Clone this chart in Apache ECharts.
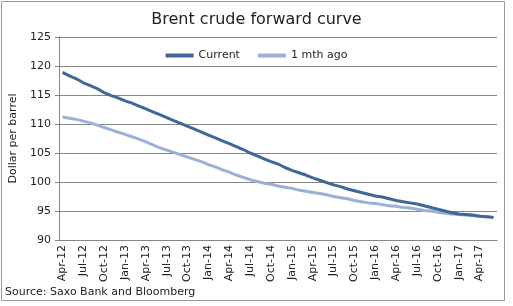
<!DOCTYPE html>
<html><head><meta charset="utf-8">
<script src="https://cdn.jsdelivr.net/npm/echarts@6/dist/echarts.min.js"></script>
<style>html,body{margin:0;padding:0;background:#fff}#c{width:513px;height:306px}</style>
</head><body><div id="c"></div>
<script>
const months = ['Jan','Feb','Mar','Apr','May','Jun','Jul','Aug','Sep','Oct','Nov','Dec'];
const categories = [];
for (let k = 0; k < 63; k++) { const m = (3 + k) % 12; const y = 12 + Math.floor((3 + k) / 12); categories.push(months[m] + '-' + y); }
const current = [118.9,118.3,117.8,117.1,116.6,116.1,115.4,114.9,114.5,114.0,113.6,113.1,112.6,112.1,111.6,111.1,110.6,110.1,109.6,109.1,108.6,108.1,107.6,107.1,106.6,106.1,105.6,105.0,104.5,104.0,103.5,103.1,102.5,102.0,101.6,101.2,100.7,100.3,99.9,99.5,99.2,98.8,98.5,98.2,97.9,97.6,97.4,97.1,96.8,96.6,96.4,96.2,95.9,95.6,95.3,95.0,94.7,94.5,94.4,94.3,94.1,94.0,93.9];
const monthAgo = [111.2,111.0,110.8,110.5,110.2,109.8,109.4,109.0,108.6,108.2,107.8,107.4,106.9,106.4,105.9,105.5,105.1,104.7,104.3,103.9,103.5,103.0,102.6,102.1,101.7,101.2,100.8,100.4,100.1,99.8,99.6,99.3,99.1,98.9,98.6,98.4,98.2,98.0,97.8,97.5,97.3,97.1,96.8,96.6,96.4,96.3,96.1,95.9,95.8,95.6,95.5,95.3,95.1,95.0,94.8,94.6,94.5,94.4,94.3,94.2,94.1,94.0,93.9];
const seriesNames = ['Current','1 mth ago'];
const font = 'DejaVu Sans, Verdana, sans-serif';
const chart = echarts.init(document.getElementById('c'), null, {renderer:'canvas'});
chart.setOption({
  animation:false,
  backgroundColor:'#fff',
  title:{text:'Brent crude forward curve', left:'center', top:7, textStyle:{fontFamily:font, fontSize:16, fontWeight:'normal', color:'#222'}},
  legend:{top:45, left:'center', icon:'rect', itemWidth:28, itemHeight:4, itemGap:18, textStyle:{fontFamily:font, fontSize:11, color:'#222'}, data:seriesNames},
  grid:{left:57, right:16, top:37, bottom:66, containLabel:false},
  xAxis:{type:'category', data:categories, boundaryGap:true,
    axisLine:{lineStyle:{color:'#868686'}},
    axisTick:{interval:2, length:4, lineStyle:{color:'#868686'}},
    axisLabel:{interval:2, rotate:90, fontFamily:font, fontSize:11, color:'#222', margin:5}},
  yAxis:{type:'value', min:90, max:125, interval:5,
    name:'Dollar per barrel', nameLocation:'middle', nameGap:40, nameRotate:90,
    nameTextStyle:{fontFamily:font, fontSize:11, color:'#222'},
    axisLine:{show:true, lineStyle:{color:'#868686'}},
    axisTick:{show:true, length:4, lineStyle:{color:'#868686'}},
    splitLine:{lineStyle:{color:'#868686'}},
    axisLabel:{fontFamily:font, fontSize:11, color:'#222', margin:8}},
  series:[
    {name:seriesNames[0], type:'line', data:current, showSymbol:false, symbol:'none', lineStyle:{width:3, color:'#41679A'}, itemStyle:{color:'#41679A'}, z:3},
    {name:seriesNames[1], type:'line', data:monthAgo, showSymbol:false, symbol:'none', lineStyle:{width:3, color:'#9BB0D5'}, itemStyle:{color:'#9BB0D5'}, z:2}
  ],
  graphic:[
    {type:'rect', shape:{x:1.5, y:1.5, width:503, height:299}, style:{fill:'none', stroke:'#999', lineWidth:1}, silent:true},
    {type:'text', left:5, top:287, style:{text:'Source: Saxo Bank and Bloomberg', font:'11px ' + font, fill:'#222'}}
  ]
});
</script></body></html>
